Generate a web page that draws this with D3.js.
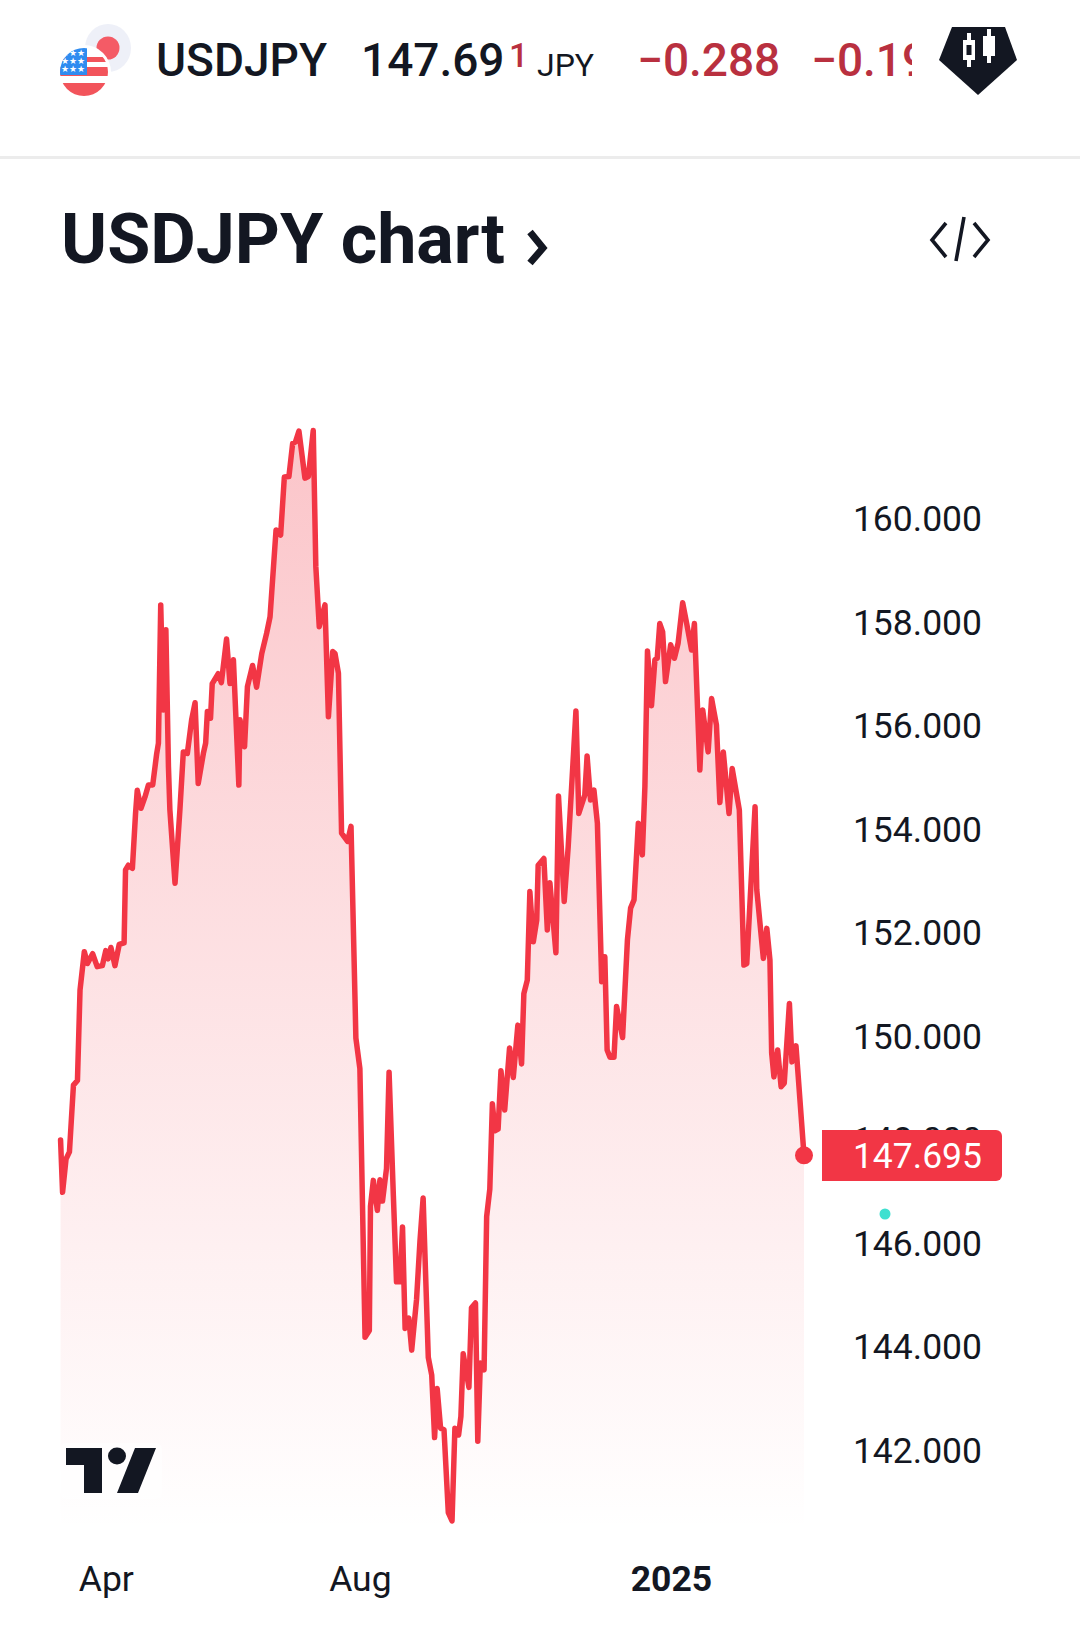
<!DOCTYPE html>
<html><head><meta charset="utf-8">
<script src="https://d3js.org/d3.v7.min.js"></script>
<style>html,body{margin:0;padding:0;background:#fff}svg{display:block}text{font-family:Roboto,sans-serif}</style>
</head><body><svg id="c" width="1080" height="1629"></svg>
<script>
const barIndex=[0.2,0.9,2.1,3.3,4.7,6.1,7.0,8.5,9.6,11.4,13.0,14.8,16.0,16.8,17.8,19.2,20.7,22.4,22.9,23.9,25.3,26.4,27.0,28.3,29.7,30.9,32.4,33.8,34.4,35.2,36.1,37.0,37.9,38.4,40.2,41.9,43.1,44.5,46.0,47.2,48.3,50.1,50.9,51.5,52.6,53.2,55.3,56.4,58.2,59.4,60.6,62.5,62.9,64.5,65.5,67.3,68.7,70.5,72.2,73.4,75.5,77.1,78.4,80.0,81.3,82.3,83.5,85.6,86.8,88.5,89.4,90.6,92.6,93.8,95.3,96.1,97.3,98.4,100.5,101.7,103.1,103.4,104.8,106.6,108.1,108.5,109.5,110.9,111.8,112.7,114.1,115.0,116.5,117.6,118.8,119.7,120.6,121.9,122.9,124.6,125.8,126.9,128.7,129.9,130.9,131.8,133.0,134.2,135.7,137.0,138.0,139.3,140.1,140.9,142.9,143.8,145.2,146.0,146.9,148.2,149.1,150.2,151.1,152.0,153.1,154.1,155.4,157.1,158.4,160.0,161.3,162.1,163.3,164.2,165.4,166.6,167.1,169.1,170.3,171.2,173.3,174.2,176.2,177.6,180.3,181.3,183.4,184.2,185.4,186.6,187.8,189.3,190.4,191.2,192.2,193.6,194.5,196.6,198.3,199.4,200.6,202.1,203.5,204.4,205.3,206.7,207.9,208.7,209.6,210.6,211.6,213.4,214.7,216.0,217.6,219.0,220.7,221.7,223.6,224.6,226.5,227.7,229.4,230.6,231.8,233.8,234.9,237.4,239.0,240.0,242.9,243.5,245.8,247.0,248.1,248.7,249.5,250.8,252.0,253.1,254.9,255.8,257.2,260];
const closes=[147.99,146.98,147.62,147.76,149.05,149.14,150.89,151.63,151.40,151.59,151.34,151.36,151.65,151.49,151.71,151.36,151.77,151.80,153.21,153.30,153.24,154.30,154.75,154.40,154.62,154.85,154.85,155.46,155.66,158.33,156.30,157.85,155.20,154.37,152.95,154.37,155.49,155.46,156.11,156.44,154.88,155.46,155.66,156.27,156.14,156.81,157.00,156.83,157.67,156.81,157.27,154.85,156.11,155.59,156.75,157.16,156.74,157.39,157.78,158.10,159.78,159.68,160.80,160.81,161.45,161.48,161.69,160.78,160.81,161.70,159.07,157.91,158.33,156.17,157.43,157.39,157.01,153.92,153.76,154.05,150.70,149.96,149.37,144.18,144.31,146.71,147.21,146.63,147.22,146.81,147.44,149.30,146.91,145.25,145.25,146.31,144.35,144.55,143.93,144.91,146.04,146.87,143.79,143.45,142.24,143.19,142.42,142.39,140.79,140.63,142.42,142.29,142.65,143.86,143.21,144.75,144.84,142.17,143.68,143.55,146.51,147.04,148.69,148.17,148.20,149.33,148.57,149.77,149.20,150.21,149.46,150.82,151.08,152.79,151.82,152.24,153.30,153.43,152.05,152.96,151.61,154.64,152.60,153.66,156.28,154.30,154.66,155.41,154.56,154.75,154.11,151.05,151.53,149.73,149.59,149.59,150.57,149.97,151.86,152.47,152.63,154.11,153.50,154.82,157.44,156.38,157.27,157.30,157.97,157.81,156.85,157.56,157.30,157.59,158.37,157.97,157.46,157.97,155.14,156.30,155.49,156.52,156.01,154.51,155.49,154.30,155.17,154.37,151.37,151.40,154.43,152.82,151.50,152.08,151.47,149.67,149.21,149.73,149.02,149.09,150.63,149.50,149.81,147.695];
const priceTicks=[142,144,146,148,150,152,154,156,158,160];
const timeTickBars=[16,104.8,213.5];
const timeTickLabels=["Apr","Aug","2025"];
const lastPrice=147.695;
const C="#f23645";

const svg=d3.select("#c");
const x=d3.scaleLinear().domain([0,260]).range([60,804]);
const y=d3.scaleLinear().domain([140,162]).range([1553.5,415]);
const pts=barIndex.map((b,i)=>[b,closes[i]]);

const defs=svg.append("defs");
const g=defs.append("linearGradient").attr("id","fade").attr("gradientUnits","userSpaceOnUse")
 .attr("x1",0).attr("x2",0).attr("y1",430).attr("y2",1530);
g.append("stop").attr("offset",0).attr("stop-color",C).attr("stop-opacity",.29);
g.append("stop").attr("offset",.45).attr("stop-color",C).attr("stop-opacity",.16);
g.append("stop").attr("offset",1).attr("stop-color",C).attr("stop-opacity",0);
defs.append("clipPath").attr("id","clipPct").append("rect").attr("x",800).attr("y",20).attr("width",112).attr("height",80);
defs.append("clipPath").attr("id","usClip").append("circle").attr("cx",84).attr("cy",72).attr("r",24);

/* header */
svg.append("ellipse").attr("cx",108).attr("cy",48).attr("rx",23).attr("ry",24).attr("fill","#eef0f8");
svg.append("circle").attr("cx",108).attr("cy",48).attr("r",11.5).attr("fill","#f45b66");
svg.append("circle").attr("cx",84).attr("cy",72).attr("r",27).attr("fill","#fff");
const us=svg.append("g").attr("clip-path","url(#usClip)");
us.append("rect").attr("x",60).attr("y",48).attr("width",48).attr("height",48).attr("fill","#fff");
[[57,5],[67,9],[83,14]].forEach(r=>us.append("rect").attr("x",60).attr("y",r[0]).attr("width",48).attr("height",r[1]).attr("fill","#f2545b"));
us.append("rect").attr("x",60).attr("y",48).attr("width",27).attr("height",27).attr("fill","#2f8cf0");
[0,1,2].forEach(r=>[0,1,2].forEach(c=>us.append("text").attr("x",65+c*8).attr("y",56+r*8).attr("font-size",9).attr("text-anchor","middle").attr("fill","#fff").text("★")));

const hdr=(t,xp,yp,size,weight,fill,extra)=>{const e=svg.append("text").attr("x",xp).attr("y",yp).attr("font-size",size).attr("font-weight",weight).attr("fill",fill).text(t);return e;};
hdr("USDJPY",156,76,46,500,"#131722");
hdr("147.69",361,76,46,500,"#131722");
hdr("1",509,67,34,500,"#b9303f");
hdr("JPY",537,76,32,400,"#131722");
hdr("\u22120.288",637,76,46,500,"#b9303f");
hdr("\u22120.19%",811,76,46,500,"#b9303f").attr("clip-path","url(#clipPct)");
svg.append("path").attr("fill","#131722").attr("d",d3.line()([[952,27],[1005,27],[1017,60],[978,95],[939,60]])+"Z");
[[969,40,54,60],[989,36,50,56]].forEach(k=>{
 svg.append("rect").attr("x",k[0]-2).attr("y",k[1]-7).attr("width",4).attr("height",k[3]-k[1]+14).attr("fill","#fff");
 svg.append("rect").attr("x",k[0]-6).attr("y",k[1]).attr("width",12).attr("height",k[3]-k[1]).attr("fill","#fff");
 if(k[0]===969) svg.append("rect").attr("x",k[0]-2.5).attr("y",k[1]+5).attr("width",5).attr("height",k[3]-k[1]-10).attr("fill","#131722");
});
svg.append("rect").attr("x",0).attr("y",156).attr("width",1080).attr("height",3).attr("fill","#ececec");

hdr("USDJPY chart",61,263,70,700,"#131722");
svg.append("path").attr("fill","none").attr("stroke","#131722").attr("stroke-width",7)
 .attr("d","M530 232L543 248L530 263");
svg.append("path").attr("fill","none").attr("stroke","#131722").attr("stroke-width",3.6)
 .attr("d","M946 223L932 240L946 257M974 223L988 240L974 257M964 217L956 261");

/* series */
svg.append("path").datum(pts).attr("fill","url(#fade)")
 .attr("d",d3.area().x(d=>x(d[0])).y1(d=>y(d[1])).y0(1540));
svg.append("rect").attr("x",x.range()[0]).attr("y",y(closes[0])).attr("width",1.5).attr("height",y(closes[1])-y(closes[0])).attr("fill",C);
svg.append("path").datum(pts).attr("fill","none").attr("stroke",C).attr("stroke-width",5.5)
 .attr("stroke-linejoin","round").attr("stroke-linecap","round")
 .attr("d",d3.line().x(d=>x(d[0])).y(d=>y(d[1])));

/* axes */
const ya=svg.append("g").attr("transform","translate(982,0)")
 .call(d3.axisRight(y).tickValues(priceTicks).tickSize(0).tickPadding(0).tickFormat(d3.format(".3f")));
ya.select(".domain").remove();
ya.selectAll("text").attr("text-anchor","end").attr("font-family","Roboto").attr("font-size",35.5).attr("fill","#131722").attr("dy","0.35em");
const xa=svg.append("g").attr("transform","translate(0,1579)")
 .call(d3.axisBottom(x).tickValues(timeTickBars).tickSize(0).tickPadding(0).tickFormat((d,i)=>timeTickLabels[i]));
xa.select(".domain").remove();
xa.selectAll("text").attr("font-family","Roboto").attr("font-size",35.5).attr("fill","#131722").attr("dy","0.35em")
 .attr("font-weight",(d,i)=>timeTickLabels[i]==="2025"?700:400);

/* last price */
svg.append("circle").attr("cx",x(260)).attr("cy",y(lastPrice)).attr("r",9).attr("fill",C);
svg.append("path").attr("fill",C).attr("d","M822 1130H996a6 6 0 0 1 6 6V1175a6 6 0 0 1 -6 6H822Z");
svg.append("text").attr("x",982).attr("y",y(lastPrice)).attr("dy","0.35em").attr("text-anchor","end").attr("font-size",35.5).attr("fill","#fff").text(d3.format(".3f")(lastPrice));
svg.append("circle").attr("cx",885).attr("cy",1214).attr("r",5.5).attr("fill","#3fe0d0");

/* logo */
svg.append("rect").attr("x",60).attr("y",1443).attr("width",102).attr("height",56).attr("rx",6).attr("fill","#fff").attr("opacity",.55);
svg.append("path").attr("fill","#131722").attr("d","M66 1448H102V1493H84V1465H66Z");
svg.append("ellipse").attr("cx",117).attr("cy",1456).attr("rx",9).attr("ry",8.5).attr("fill","#131722");
svg.append("path").attr("fill","#131722").attr("d","M135 1448H156L138 1493H117Z");
</script></body></html>
